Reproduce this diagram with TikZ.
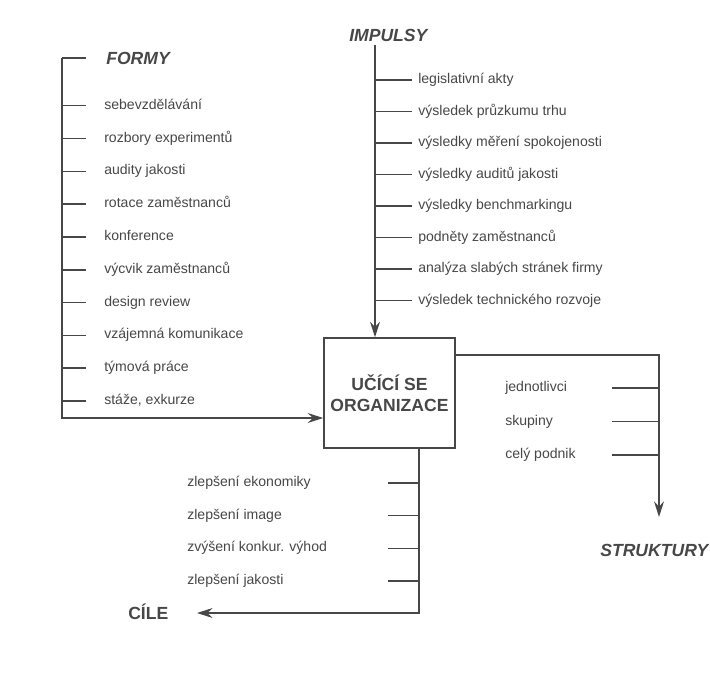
\documentclass[tikz,border=0pt]{standalone}
\usepackage{fontspec}
\setmainfont{Liberation Sans}
\usetikzlibrary{arrows.meta}
\definecolor{ink}{HTML}{474747}

\tikzset{
	item/.style={right, inner sep=0pt, text height=7pt, text depth=2pt,
		font=\fontsize{10}{12}\selectfont, text=ink},
	head/.style={right, inner sep=0pt, text height=9pt, text depth=0pt,
		font=\fontsize{12.5}{14}\selectfont\bfseries\itshape, text=ink},
	line/.style={draw=ink, line width=1pt},
	arr/.style={line, -{Stealth[length=11pt,width=7pt]}},
	orgbox/.style={draw=ink, line width=1pt, align=center, text=ink,
		font=\fontsize{12.5}{15}\selectfont\bfseries,
		minimum width=3.275cm, minimum height=2.75cm}
}

\begin{document}
\begin{tikzpicture}[x=0.025cm,y=-0.025cm]
	\useasboundingbox (0,0) rectangle (710,688);

	\node[orgbox] (org) at (389.5,393) {UČÍCÍ SE\\ORGANIZACE};

	% formy
	\node[head] (formy) at (106,58) {FORMY};
	\foreach \t [count=\i] in {sebevzdělávání, rozbory experimentů, audity jakosti,
		rotace zaměstnanců, konference, výcvik zaměstnanců, design review,
		vzájemná komunikace, týmová práce, {stáže, exkurze}} {
		\node[item] (f\i) at (104,73+32.8*\i) {\t};
		\draw[line] (62,0 |- f\i) -- (86,0 |- f\i);
	}
	\draw[line] (86,0 |- formy) -- (62,0 |- formy);
	\draw[arr] (62,0 |- formy) -- (62,418) -- (org.west |- 0,418);

	% impulsy
	\node[head] (impulsy) at (349,35) {IMPULSY};
	\foreach \t [count=\i] in {legislativní akty, výsledek průzkumu trhu,
		výsledky měření spokojenosti, výsledky auditů jakosti,
		výsledky benchmarkingu, podněty zaměstnanců,
		analýza slabých stránek firmy, výsledek technického rozvoje} {
		\node[item] (i\i) at (418,48.5+31.5*\i) {\t};
		\draw[line] (375,0 |- i\i) -- (412,0 |- i\i);
	}
	\draw[arr] (375,45) -- (375,0 |- org.north);

	% struktury
	\node[head] (struktury) at (600,550) {STRUKTURY};
	\foreach \t [count=\i] in {jednotlivci, skupiny, celý podnik} {
		\node[item] (s\i) at (505,354.5+33.5*\i) {\t};
		\draw[line] (612,0 |- s\i) -- (659,0 |- s\i);
	}
	\draw[arr] (org.east |- 0,355) -- (659,355) -- (659,517);

	% cile
	\node[head, font=\fontsize{12.5}{14}\selectfont\bfseries] (cile) at (128,613) {CÍLE};
	\foreach \t [count=\i] in {zlepšení ekonomiky, zlepšení image,
		zvýšení konkur. výhod, zlepšení jakosti} {
		\node[item] (c\i) at (187,450.3+32.7*\i) {\t};
		\draw[line] (388,0 |- c\i) -- (419,0 |- c\i);
	}
	\draw[arr] (419,0 |- org.south) -- (419,613) -- (197,613);
\end{tikzpicture}
\end{document}
